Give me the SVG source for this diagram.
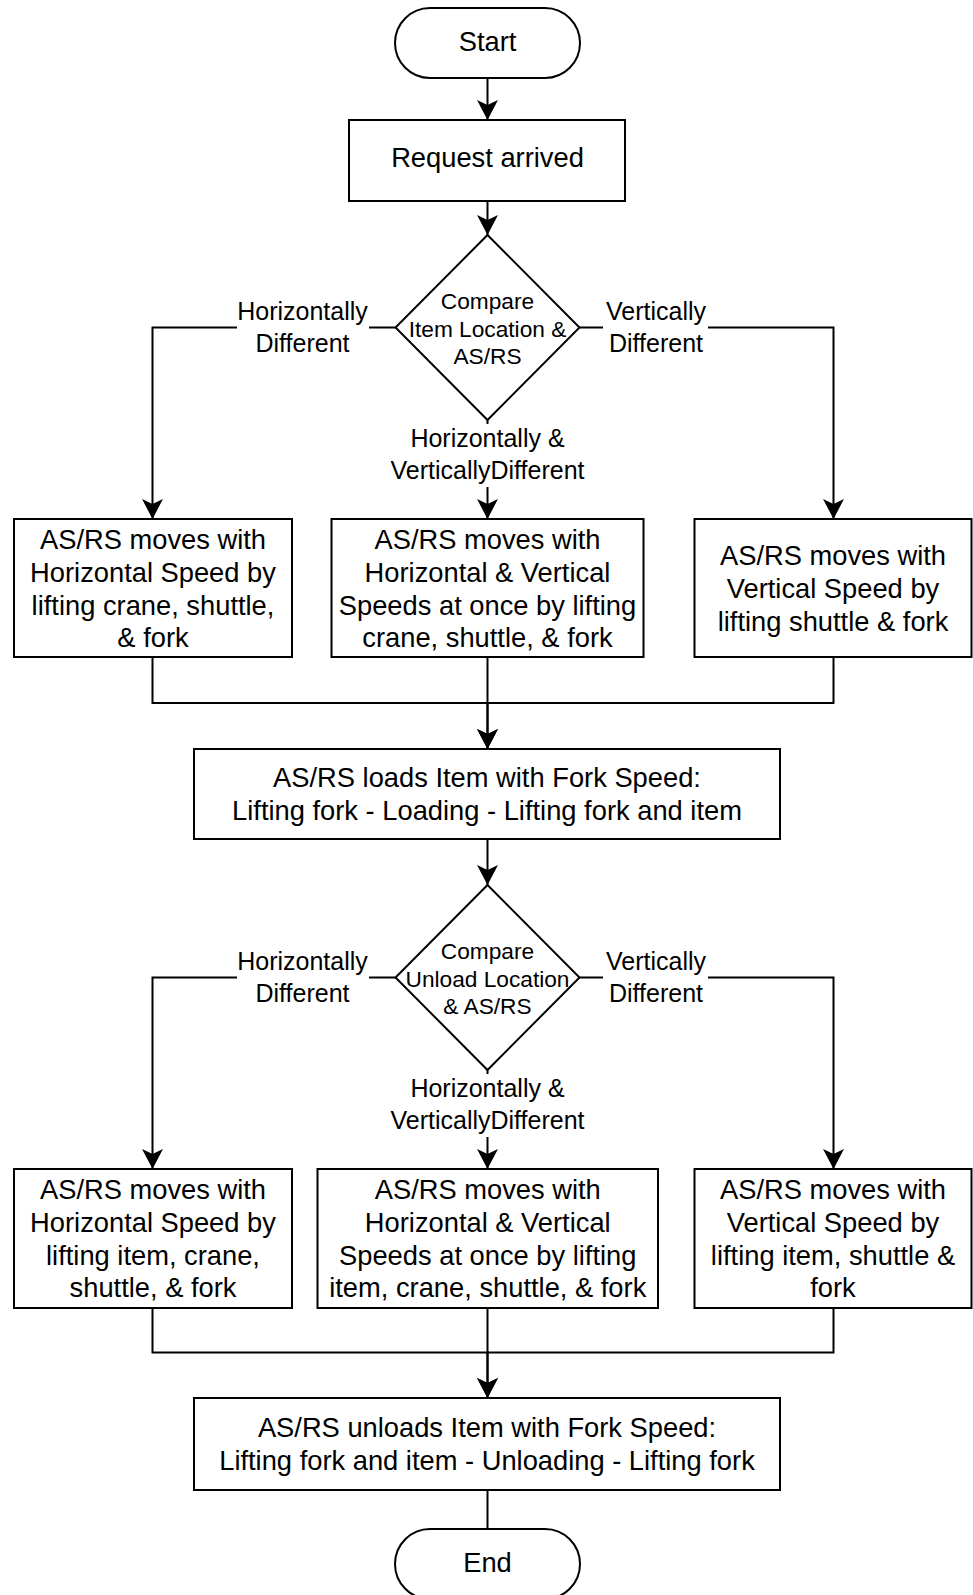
<svg xmlns="http://www.w3.org/2000/svg" width="973" height="1595" viewBox="0 0 973 1595">
<style>
.shape{fill:#fff;stroke:#000;stroke-width:2}
.line{fill:none;stroke:#000;stroke-width:2}
.arr{marker-end:url(#ah)}
text{font-family:"Liberation Sans",Arial,sans-serif;fill:#000;text-anchor:middle}
.t{font-size:27.3px}
.d{font-size:22.7px}
.e{font-size:25px}
.bg{fill:#fff;stroke:none}
</style>
<defs>
<marker id="ah" viewBox="0 0 20 21" refX="20" refY="10.5" markerWidth="20" markerHeight="21" markerUnits="userSpaceOnUse" orient="auto">
<path d="M20,10.5 L0,0 L5,10.5 L0,21 Z" fill="#000"/>
</marker>
</defs>
<rect width="973" height="1595" fill="#fff"/>
<g id="connectors">
<path class="line arr" d="M487.5,78 V120"/>
<path class="line arr" d="M487.5,201 V235"/>
<path class="line arr" d="M395.5,327.5 H152.5 V519"/>
<path class="line arr" d="M579.5,327.5 H833.5 V519"/>
<path class="line arr" d="M487.5,420 V519"/>
<path class="line arr" d="M152.5,657 V703 H487.5 V749"/>
<path class="line" d="M833.5,657 V703 H487.5"/>
<path class="line arr" d="M487.5,657 V749"/>
<path class="line arr" d="M487.5,839 V885"/>
<path class="line arr" d="M395.5,977.5 H152.5 V1169"/>
<path class="line arr" d="M579.5,977.5 H833.5 V1169"/>
<path class="line arr" d="M487.5,1070 V1169"/>
<path class="line arr" d="M152.5,1308 V1352.5 H487.5 V1398"/>
<path class="line" d="M833.5,1308 V1352.5 H487.5"/>
<path class="line arr" d="M487.5,1308 V1398"/>
<path class="line" d="M487.5,1490 V1529"/>
<g id="labels">
<rect class="bg" x="237" y="298" width="132" height="62"/>
<text class="e" x="302.5" y="320">Horizontally</text>
<text class="e" x="302.5" y="352">Different</text>
<rect class="bg" x="603" y="298" width="105" height="62"/>
<text class="e" x="656" y="320">Vertically</text>
<text class="e" x="656" y="352">Different</text>
<rect class="bg" x="389" y="424" width="198" height="63"/>
<text class="e" x="487.5" y="446.7">Horizontally &amp;</text>
<text class="e" x="487.5" y="479">VerticallyDifferent</text>
<rect class="bg" x="237" y="948" width="132" height="62"/>
<text class="e" x="302.5" y="970">Horizontally</text>
<text class="e" x="302.5" y="1002">Different</text>
<rect class="bg" x="603" y="948" width="105" height="62"/>
<text class="e" x="656" y="970">Vertically</text>
<text class="e" x="656" y="1002">Different</text>
<rect class="bg" x="389" y="1074" width="198" height="63"/>
<text class="e" x="487.5" y="1096.7">Horizontally &amp;</text>
<text class="e" x="487.5" y="1129">VerticallyDifferent</text>
</g>
</g>
<g id="start">
<rect class="shape" x="395" y="8" width="185" height="70" rx="35" ry="35"/>
<text class="t" x="487.5" y="51">Start</text>
</g>
<g id="request">
<rect class="shape" x="349" y="120" width="276" height="81"/>
<text class="t" x="487.5" y="167">Request arrived</text>
</g>
<g id="compare1">
<polygon class="shape" points="487.5,235 579.5,327.5 487.5,420 395.5,327.5"/>
<text class="d" x="487.5" y="309">Compare</text>
<text class="d" x="487.5" y="337">Item Location &amp;</text>
<text class="d" x="487.5" y="364">AS/RS</text>
</g>
<g id="move1h">
<rect class="shape" x="14" y="519" width="278" height="138"/>
<text class="t" x="153" y="549">AS/RS moves with</text>
<text class="t" x="153" y="582">Horizontal Speed by</text>
<text class="t" x="153" y="615">lifting crane, shuttle,</text>
<text class="t" x="153" y="647">&amp; fork</text>
</g>
<g id="move1hv">
<rect class="shape" x="331.5" y="519" width="312" height="138"/>
<text class="t" x="487.5" y="549">AS/RS moves with</text>
<text class="t" x="487.5" y="582">Horizontal &amp; Vertical</text>
<text class="t" x="487.5" y="615">Speeds at once by lifting</text>
<text class="t" x="487.5" y="647">crane, shuttle, &amp; fork</text>
</g>
<g id="move1v">
<rect class="shape" x="694.5" y="519" width="277" height="138"/>
<text class="t" x="833" y="565">AS/RS moves with</text>
<text class="t" x="833" y="598">Vertical Speed by</text>
<text class="t" x="833" y="631">lifting shuttle &amp; fork</text>
</g>
<g id="load">
<rect class="shape" x="194" y="749" width="586" height="90"/>
<text class="t" x="487" y="787">AS/RS loads Item with Fork Speed:</text>
<text class="t" x="487" y="820">Lifting fork - Loading - Lifting fork and item</text>
</g>
<g id="compare2">
<polygon class="shape" points="487.5,885 579.5,977.5 487.5,1070 395.5,977.5"/>
<text class="d" x="487.5" y="959">Compare</text>
<text class="d" x="487.5" y="987">Unload Location</text>
<text class="d" x="487.5" y="1014">&amp; AS/RS</text>
</g>
<g id="move2h">
<rect class="shape" x="14" y="1169" width="278" height="139"/>
<text class="t" x="153" y="1199">AS/RS moves with</text>
<text class="t" x="153" y="1232">Horizontal Speed by</text>
<text class="t" x="153" y="1265">lifting item, crane,</text>
<text class="t" x="153" y="1297">shuttle, &amp; fork</text>
</g>
<g id="move2hv">
<rect class="shape" x="317.5" y="1169" width="340.5" height="139"/>
<text class="t" x="487.75" y="1199">AS/RS moves with</text>
<text class="t" x="487.75" y="1232">Horizontal &amp; Vertical</text>
<text class="t" x="487.75" y="1265">Speeds at once by lifting</text>
<text class="t" x="487.75" y="1297">item, crane, shuttle, &amp; fork</text>
</g>
<g id="move2v">
<rect class="shape" x="694.5" y="1169" width="277" height="139"/>
<text class="t" x="833" y="1199">AS/RS moves with</text>
<text class="t" x="833" y="1232">Vertical Speed by</text>
<text class="t" x="833" y="1265">lifting item, shuttle &amp;</text>
<text class="t" x="833" y="1297">fork</text>
</g>
<g id="unload">
<rect class="shape" x="194" y="1398" width="586" height="92"/>
<text class="t" x="487" y="1437">AS/RS unloads Item with Fork Speed:</text>
<text class="t" x="487" y="1470">Lifting fork and item - Unloading - Lifting fork</text>
</g>
<g id="end">
<rect class="shape" x="395" y="1529" width="185" height="70" rx="35" ry="35"/>
<text class="t" x="487.5" y="1572">End</text>
</g>
</svg>
